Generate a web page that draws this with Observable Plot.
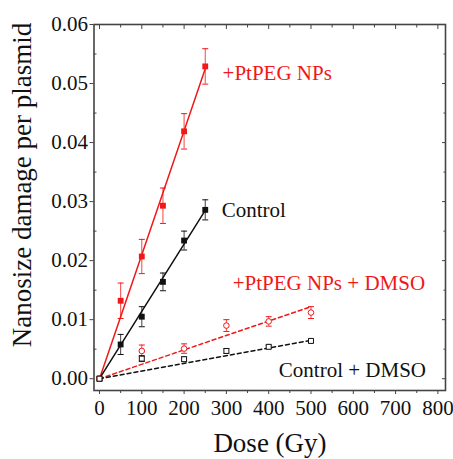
<!DOCTYPE html>
<html><head><meta charset="utf-8">
<script src="https://cdn.jsdelivr.net/npm/d3@7"></script>
<script src="https://cdn.jsdelivr.net/npm/@observablehq/plot@0.6"></script>
<style>body{margin:0;background:#fff} svg, svg text {font-family: "Liberation Serif", serif !important;}</style>
</head><body><div id="chart"></div>
<script>
const doseA = [0, 50, 100, 150, 200, 250];
const ptpeg = [0, 0.0132, 0.0207, 0.0293, 0.0419, 0.0529];
const ptpegErr = [0, 0.003, 0.0029, 0.003, 0.003, 0.003];
const control = [0, 0.0058, 0.0105, 0.0164, 0.0234, 0.0286];
const controlErr = [0, 0.0017, 0.0017, 0.0015, 0.0016, 0.0017];
const doseB = [0, 100, 200, 300, 400, 500];
const ptpegDmso = [0, 0.0047, 0.0051, 0.0090, 0.0097, 0.0112];
const ptpegDmsoErr = [0, 0.001, 0.0008, 0.001, 0.0008, 0.001];
const controlDmso = [0, 0.0034, 0.0033, 0.0047, 0.0054, 0.0064];
const controlDmsoErr = [0, 0.0005, 0.0004, 0.0004, 0.0003, 0.0003];
const fitSlopes = {ptpeg: 0.00021, control: 0.000114, ptpegDmso: 0.0000244, controlDmso: 0.000013};
const labels = ["+PtPEG NPs", "Control", "+PtPEG NPs + DMSO", "Control + DMSO"];
const labelX = [291, 289, 315, 424];
const labelY = [0.0517, 0.0286, 0.0161, 0.0014];
const colors = {red: "#f01818", black: "#111"};

const series = [
  {key: "ptpeg", x: doseA, y: ptpeg, e: ptpegErr, color: colors.red, open: false, dash: null},
  {key: "control", x: doseA, y: control, e: controlErr, color: colors.black, open: false, dash: null},
  {key: "ptpegDmso", x: doseB, y: ptpegDmso, e: ptpegDmsoErr, color: colors.red, open: "circle", dash: "4,3"},
  {key: "controlDmso", x: doseB, y: controlDmso, e: controlDmsoErr, color: colors.black, open: "square", dash: "4,3"}
];

const capSymbol = {draw(ctx, size) { const r = 3; ctx.moveTo(-r, 0); ctx.lineTo(r, 0); }};
const marks = [];
for (const s of series) {
  const pts = s.x.map((x, i) => ({x, y: s.y[i], lo: s.y[i] - s.e[i], hi: s.y[i] + s.e[i]}));
  const xmax = d3.max(s.x);
  const fit = [{x: 0, y: 0}, {x: xmax, y: fitSlopes[s.key] * xmax}];
  marks.push(Plot.line(fit, {x: "x", y: "y", stroke: s.color, strokeWidth: 1.5, strokeDasharray: s.dash}));
  const ep = pts.filter(d => d.hi > d.lo);
  marks.push(Plot.ruleX(ep, {x: "x", y1: "lo", y2: "hi", stroke: s.color, strokeWidth: 1, strokeOpacity: 0.8}));
  marks.push(Plot.dot(ep, {x: "x", y: "lo", symbol: capSymbol, stroke: s.color, strokeWidth: 1}));
  marks.push(Plot.dot(ep, {x: "x", y: "hi", symbol: capSymbol, stroke: s.color, strokeWidth: 1}));
  if (s.open) {
    marks.push(Plot.dot(pts, {x: "x", y: "y", symbol: s.open, r: 2.8, stroke: s.color, fill: "white", strokeWidth: 1}));
  } else {
    marks.push(Plot.dot(pts, {x: "x", y: "y", symbol: "square", r: 3.3, fill: s.color, stroke: "none"}));
  }
}
const labelData = labels.map((t, i) => ({t, x: labelX[i], y: labelY[i], c: i % 2 === 0 ? colors.red : colors.black}));

const xMajor = d3.range(0, 801, 100);
const xMinor = d3.range(50, 801, 100);
const yMajor = d3.range(0, 0.0601, 0.01);
const yMinor = d3.range(0.005, 0.06, 0.01);

const chart = Plot.plot({
  width: 453, height: 459,
  marginLeft: 93.5, marginRight: 8, marginTop: 24, marginBottom: 69,
  style: {fontSize: "21px", color: "#111", background: "white"},
  x: {domain: [-13, 818], label: null},
  y: {domain: [-0.002, 0.06], label: null},
  marks: [
    Plot.axisX({ticks: xMajor, tickSize: 4, tickPadding: 6, tickFormat: d3.format("d"), fontSize: 21, label: null, stroke: "#444"}),
    Plot.axisX({ticks: xMinor, tickSize: 3, text: null, label: null, stroke: "#444"}),
    Plot.axisX({anchor: "top", ticks: xMajor, tickSize: -4, text: null, label: null, stroke: "#444"}),
    Plot.axisX({anchor: "top", ticks: xMinor, tickSize: -2.5, text: null, label: null, stroke: "#444"}),
    Plot.axisY({ticks: yMajor, tickSize: 4, tickPadding: 2, tickFormat: d3.format(".2f"), fontSize: 21, label: null, stroke: "#444"}),
    Plot.axisY({ticks: yMinor, tickSize: -3, text: null, label: null, stroke: "#444"}),
    Plot.axisY({anchor: "right", ticks: yMajor, tickSize: -4, text: null, label: null, stroke: "#444"}),
    Plot.axisY({anchor: "right", ticks: yMinor, tickSize: -2.5, text: null, label: null, stroke: "#444"}),
    Plot.frame({stroke: "#444", strokeWidth: 1.6}),
    ...marks,
    Plot.text(labelData, {x: "x", y: "y", text: "t", fill: "c", fontSize: 21, textAnchor: "start"})
  ]
});
const svg = d3.select(chart);
svg.append("text").attr("transform", "translate(31,185) rotate(-90)").attr("text-anchor", "middle")
  .style("font-size", "27px").attr("fill", "#111").text("Nanosize damage per plasmid");
svg.append("text").attr("x", 270).attr("y", 452).attr("text-anchor", "middle")
  .style("font-size", "27px").attr("fill", "#111").text("Dose (Gy)");
chart.style.fontFamily = "'Liberation Serif', serif";
document.getElementById("chart").appendChild(chart);
</script></body></html>
